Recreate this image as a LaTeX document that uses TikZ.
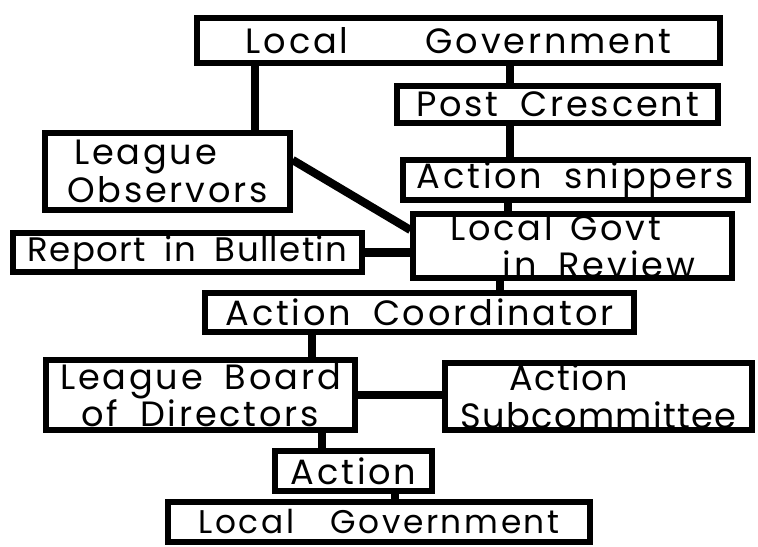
\documentclass[tikz,border=0pt]{standalone}
\usepackage{fontspec}
\setmainfont{Poppins}[LetterSpace=8,WordSpace=1.8]
\usetikzlibrary{positioning}

\begin{document}
\begin{tikzpicture}[x=0.3mm,y=-0.3mm,
  box/.style={rectangle,draw,line width=4.5pt,inner sep=0pt,
    font=\fontsize{30}{32}\selectfont},
  link/.style={line width=7pt}]
\useasboundingbox (0,0) rectangle (758,546);
% Upper chain
\node[box,minimum width=523*0.3mm,minimum height=45*0.3mm] (lgtop) at (458.5,40.5) {Local\hspace{2.2em}Government};
\node[box,minimum width=321*0.3mm,minimum height=37*0.3mm] (post) at (557.5,104.5) {Post Crescent};
\node[box,minimum width=245*0.3mm,minimum height=77*0.3mm,align=left] (observ) at (167.5,171.5) {\hspace{0.2em}League\\Observors};
\node[box,minimum width=345*0.3mm,minimum height=40*0.3mm] (snip) at (575.5,180) {Action snippers};
\node[box,minimum width=319*0.3mm,minimum height=60*0.3mm,align=left] (review) at (572.5,246) {Local\hspace{0.5em}Govt\\\hspace{1.5em}in Review};
\node[box,minimum width=349*0.3mm,minimum height=39*0.3mm,font=\fontsize{29}{31}\selectfont\addfontfeature{LetterSpace=4}] (bulletin) at (187.5,252.5) {Report in Bulletin};
\draw[link] (lgtop.south -| 510,0) -- (post.north -| 510,0);
\draw[link] (lgtop.south -| 255,0) -- (observ.north -| 255,0);
\draw[link] (post.south -| 510,0) -- (snip.north -| 510,0);
\draw[link] (snip.south -| 508,0) -- (review.north -| 508,0);
\draw[link] (observ.east |- 0,160) -- (review.west |- 0,230);
\draw[link] (bulletin.east) -- (review.west |- bulletin.east);

% Lower chain
\node[box,minimum width=429*0.3mm,minimum height=39*0.3mm] (coord) at (419.5,312.5) {Action Coordinator};
\node[box,minimum width=309*0.3mm,minimum height=70*0.3mm,align=left] (board) at (200.5,395) {League Board\\\hspace{0.6em}of Directors};
\node[box,minimum width=307*0.3mm,minimum height=67*0.3mm,align=left,font=\fontsize{30}{32}\selectfont\addfontfeature{LetterSpace=4}] (subcom) at (598.5,396.5) {\hspace{1.4em}Action\\Subcommittee};
\node[box,minimum width=157*0.3mm,minimum height=40*0.3mm] (action) at (353.5,471) {Action};
\node[box,minimum width=422*0.3mm,minimum height=40*0.3mm,font=\fontsize{28}{30}\selectfont] (lgbot) at (379,522) {Local\hspace{1.1em}Government};
\draw[link] (review.south -| 500,0) -- (coord.north -| 500,0);
\draw[link] (coord.south -| 312,0) -- (board.north -| 312,0);
\draw[link] (board.east) -- (subcom.west |- board.east);
\draw[link] (board.south -| 322,0) -- (action.north -| 322,0);
\draw[link] (action.south -| 395,0) -- (lgbot.north -| 395,0);
\end{tikzpicture}
\end{document}
